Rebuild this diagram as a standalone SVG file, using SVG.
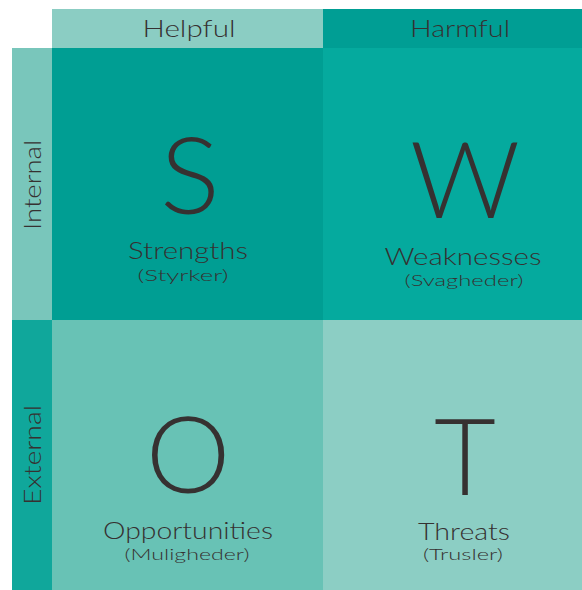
<svg xmlns="http://www.w3.org/2000/svg" width="582" height="590" viewBox="0 0 582 590">
<style>
text{font-family:Lato,"Open Sans","Liberation Sans",sans-serif;fill:#363131;text-anchor:middle;font-weight:300}
.big{font-size:107px}
.lbl{font-size:24px}
.sub{font-size:16px}
.hdr{font-size:23px}
</style>
<rect width="582" height="590" fill="#ffffff"/>
<g id="header-helpful">
<rect x="52" y="9" width="271" height="39" fill="#8bcdc3"/>
<text class="hdr" x="189" y="37" textLength="93" lengthAdjust="spacingAndGlyphs">Helpful</text>
</g>
<g id="header-harmful">
<rect x="323" y="9" width="259" height="39" fill="#009e94"/>
<text class="hdr" x="460" y="37" textLength="100" lengthAdjust="spacingAndGlyphs">Harmful</text>
</g>
<g id="side-internal">
<rect x="12" y="48" width="40" height="272" fill="#79c6bb"/>
<text class="hdr" transform="translate(41,185) rotate(-90)" textLength="90" lengthAdjust="spacingAndGlyphs">Internal</text>
</g>
<g id="side-external">
<rect x="12" y="320" width="40" height="270" fill="#10a79b"/>
<text class="hdr" transform="translate(41,455) rotate(-90)" textLength="100" lengthAdjust="spacingAndGlyphs">External</text>
</g>
<g id="strengths">
<rect x="52" y="48" width="271" height="272" fill="#009e93"/>
<text class="big" x="190" y="214" textLength="60" lengthAdjust="spacingAndGlyphs">S</text>
<text class="lbl" x="188" y="259" textLength="120" lengthAdjust="spacingAndGlyphs">Strengths</text>
<text class="sub" x="183" y="281" textLength="91" lengthAdjust="spacingAndGlyphs">(Styrker)</text>
</g>
<g id="weaknesses">
<rect x="323" y="48" width="259" height="272" fill="#05aa9e"/>
<text class="big" x="465" y="218" textLength="110" lengthAdjust="spacingAndGlyphs">W</text>
<text class="lbl" x="463" y="265" textLength="157" lengthAdjust="spacingAndGlyphs">Weaknesses</text>
<text class="sub" x="464" y="286" textLength="119" lengthAdjust="spacingAndGlyphs">(Svagheder)</text>
</g>
<g id="opportunities">
<rect x="52" y="320" width="271" height="270" fill="#68c2b5"/>
<text class="big" x="188" y="493">O</text>
<text class="lbl" x="188" y="539" textLength="170" lengthAdjust="spacingAndGlyphs">Opportunities</text>
<text class="sub" x="187" y="560" textLength="125" lengthAdjust="spacingAndGlyphs">(Muligheder)</text>
</g>
<g id="threats">
<rect x="323" y="320" width="259" height="270" fill="#8ccec4"/>
<text class="big" x="465" y="495">T</text>
<text class="lbl" x="464" y="540" textLength="92" lengthAdjust="spacingAndGlyphs">Threats</text>
<text class="sub" x="463" y="560" textLength="80" lengthAdjust="spacingAndGlyphs">(Trusler)</text>
</g>
<g id="connectors"></g>
</svg>
